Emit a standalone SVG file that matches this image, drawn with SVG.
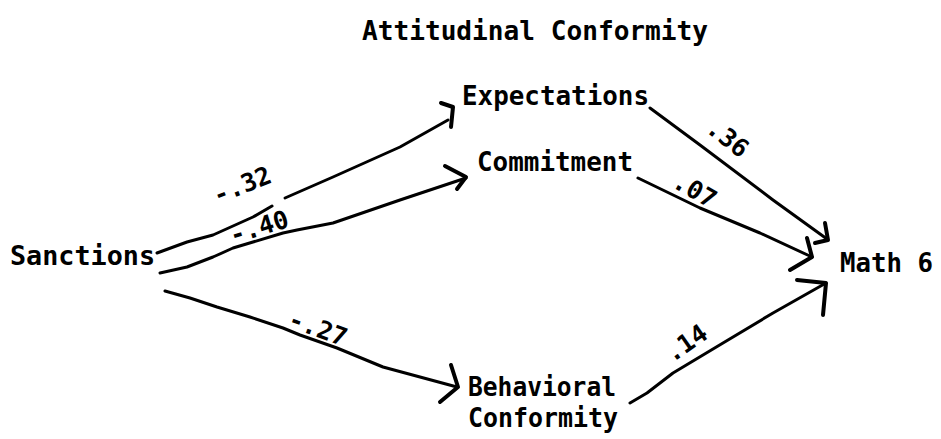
<svg xmlns="http://www.w3.org/2000/svg" width="941" height="439" viewBox="0 0 941 439">
<style>
text{font-family:"DejaVu Sans Mono","Liberation Mono",monospace;font-size:26px;font-weight:bold;fill:#000}
.lbl{font-size:25px}
.ln{fill:none;stroke:#000;stroke-width:3;stroke-linecap:round;stroke-linejoin:round}
.ah{fill:none;stroke:#000;stroke-width:4;stroke-linecap:round;stroke-linejoin:round}
</style>
<rect width="941" height="439" fill="#fff"/>
<text x="362" y="40" textLength="346" lengthAdjust="spacingAndGlyphs">Attitudinal Conformity</text>
<g id="sanctions"><text x="10" y="265" textLength="145" lengthAdjust="spacingAndGlyphs">Sanctions</text></g>
<g id="expectations"><text x="462" y="105" textLength="187" lengthAdjust="spacingAndGlyphs">Expectations</text></g>
<g id="commitment"><text x="477" y="171" textLength="156" lengthAdjust="spacingAndGlyphs">Commitment</text></g>
<g id="behavioral"><text x="468" y="396" textLength="148" lengthAdjust="spacingAndGlyphs">Behavioral</text><text x="468" y="427" textLength="150" lengthAdjust="spacingAndGlyphs">Conformity</text></g>
<g id="math6"><text x="840" y="272" textLength="93" lengthAdjust="spacingAndGlyphs">Math 6</text></g>
<g id="connectors">
<polyline class="ln" points="157,253 187,242 213,235 253,217 272,206"/>
<polyline class="ln" points="285,198 333,177 400,147 448,120"/>
<path class="ah" d="M441,103 L453,107 L451,127"/>
<polyline class="ln" points="160,273 187,267 213,257 233,248 253,242 283,233 297,230 333,223 400,200 466,178"/>
<path class="ah" d="M445,166 L466,177 L457,189"/>
<polyline class="ln" points="165,291 190,298 217,307 250,317 283,328 300,335 337,348 383,367 457,387"/>
<path class="ah" d="M451,365 L458,387 L440,402"/>
<polyline class="ln" points="650,108 700,145 773,200 827,239"/>
<path class="ah" d="M825,223 L828,240 L815,243"/>
<polyline class="ln" points="638,178 700,208 760,233 812,257"/>
<path class="ah" d="M807,238 L812,257 L790,270"/>
<polyline class="ln" points="630,403 647,393 673,373 723,343 773,313 826,283"/>
<path class="ah" d="M797,280 L826,283 L823,315"/>
<text class="lbl" text-anchor="middle" dy="0.35em" transform="translate(242,185) rotate(-22)">-.32</text>
<text class="lbl" text-anchor="middle" dy="0.35em" transform="translate(259,227) rotate(-17)">-.40</text>
<text class="lbl" text-anchor="middle" dy="0.35em" transform="translate(318,328) rotate(20)">-.27</text>
<text class="lbl" text-anchor="middle" dy="0.35em" transform="translate(728,138) rotate(38)">.36</text>
<text class="lbl" text-anchor="middle" dy="0.35em" transform="translate(695,190) rotate(30)">.07</text>
<text class="lbl" text-anchor="middle" dy="0.35em" transform="translate(686,343) rotate(-35)">.14</text>
</g>
</svg>
